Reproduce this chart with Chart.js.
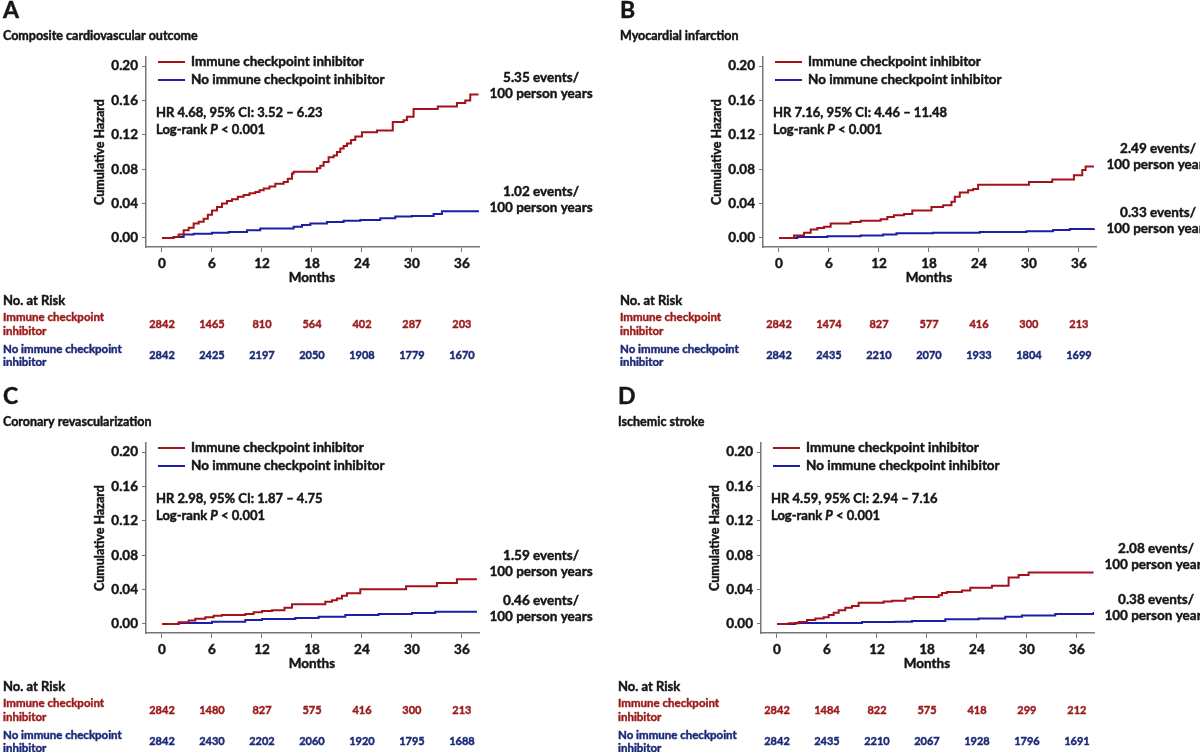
<!DOCTYPE html>
<html lang="en">
<head>
<meta charset="UTF-8">
<title>Cumulative hazard, immune checkpoint inhibitors</title>
<script src="https://cdn.jsdelivr.net/npm/chart.js@4.4.1/dist/chart.umd.min.js"></script>
<style>
  html, body { margin: 0; padding: 0; background: #fff; overflow: hidden; }
  #wrap { position: relative; width: 1200px; height: 752px; }
  #wrap canvas { position: absolute; }
</style>
</head>
<body>
<div id="wrap">
  <canvas id="pA" width="600" height="366" style="left:0;top:0"></canvas>
  <canvas id="pB" width="583" height="366" style="left:617px;top:0"></canvas>
  <canvas id="pC" width="600" height="366" style="left:0;top:386px"></canvas>
  <canvas id="pD" width="585" height="366" style="left:615px;top:386px"></canvas>
</div>
<script>
// ---- data ----
const months = [0, 6, 12, 18, 24, 30, 36]
const hazardTicks = [0, 0.02, 0.04, 0.06, 0.08, 0.10, 0.12, 0.14, 0.16, 0.18, 0.20]
const groups = ['Immune checkpoint inhibitor', 'No immune checkpoint inhibitor']

// A: composite cardiovascular outcome
const compIciT = [0, 1.4, 2.0, 2.6, 3.2, 3.8, 4.4, 5.0, 5.5, 6.0, 6.6, 7.2, 7.8, 8.4, 9.1, 9.8, 10.5, 11.2, 11.7, 12.2, 12.9, 13.6, 14.6, 15.1, 15.6, 15.8, 18.6, 19.0, 19.4, 20.0, 20.6, 21.0, 21.4, 21.8, 22.2, 22.7, 23.2, 24.0, 25.8, 27.7, 29.0, 29.4, 30.2, 33.1, 35.4, 36.4, 37.0, 38.0]
const compIciH = [0, 0.001, 0.004, 0.009, 0.012, 0.0167, 0.019, 0.0225, 0.027, 0.032, 0.036, 0.040, 0.043, 0.045, 0.048, 0.050, 0.052, 0.0536, 0.0555, 0.0575, 0.060, 0.063, 0.065, 0.069, 0.075, 0.077, 0.081, 0.084, 0.0885, 0.094, 0.096, 0.100, 0.104, 0.107, 0.110, 0.114, 0.118, 0.123, 0.125, 0.135, 0.137, 0.141, 0.150, 0.153, 0.157, 0.160, 0.167, 0.167]
const compNoT = [0, 1.4, 2.6, 3.8, 6.0, 8.0, 10.2, 11.8, 15.8, 16.8, 17.8, 19.8, 21.8, 23.8, 26.2, 28.0, 30.0, 32.6, 33.6, 36.5, 38.0]
const compNoH = [0, 0.001, 0.004, 0.005, 0.006, 0.007, 0.009, 0.011, 0.013, 0.015, 0.0167, 0.0186, 0.020, 0.021, 0.023, 0.025, 0.0256, 0.028, 0.031, 0.031, 0.032]

// B: myocardial infarction
const miIciT = [0, 1.8, 3.0, 3.8, 4.6, 5.4, 6.2, 8.6, 9.8, 12.2, 13.0, 13.8, 15.0, 16.0, 18.3, 19.7, 20.7, 21.1, 21.7, 22.7, 23.3, 23.9, 30.0, 32.8, 35.4, 36.4, 36.8, 37.8]
const miIciH = [0, 0.003, 0.006, 0.010, 0.0117, 0.013, 0.0167, 0.0186, 0.020, 0.0217, 0.0245, 0.0264, 0.028, 0.032, 0.036, 0.038, 0.042, 0.048, 0.053, 0.0555, 0.057, 0.062, 0.065, 0.068, 0.073, 0.079, 0.083, 0.083]
const miNoT = [0, 2.2, 5.8, 9.8, 12.5, 14.1, 18.5, 24.1, 29.7, 32.9, 34.9, 37.8]
const miNoH = [0, 0.001, 0.002, 0.003, 0.004, 0.0055, 0.006, 0.007, 0.0078, 0.0093, 0.0105, 0.011]

// C: coronary revascularization
const revIciT = [0, 2.0, 3.2, 4.0, 5.2, 6.2, 7.2, 10.0, 11.0, 12.0, 13.2, 14.7, 15.6, 19.6, 20.4, 21.0, 21.6, 22.2, 23.8, 29.3, 33.0, 35.4, 37.8]
const revIciH = [0, 0.002, 0.004, 0.006, 0.0077, 0.0096, 0.0104, 0.0115, 0.0135, 0.015, 0.016, 0.019, 0.023, 0.0258, 0.0277, 0.0296, 0.0327, 0.0358, 0.0404, 0.0438, 0.0477, 0.052, 0.052]
const revNoT = [0, 2.0, 6.0, 10.0, 12.0, 16.0, 18.8, 22.0, 26.0, 30.0, 32.8, 37.8]
const revNoH = [0, 0.001, 0.0027, 0.0046, 0.0058, 0.007, 0.0085, 0.0104, 0.0115, 0.0127, 0.0142, 0.0142]

// D: ischemic stroke
const strokeIciT = [0, 1.4, 2.6, 3.6, 4.6, 5.6, 6.2, 6.8, 7.4, 8.2, 9.0, 9.8, 12.8, 13.8, 15.4, 16.4, 19.4, 19.8, 20.4, 22.2, 23.2, 25.8, 27.8, 29.0, 30.2, 38.0]
const strokeIciH = [0, 0.0008, 0.0023, 0.0046, 0.0065, 0.0077, 0.0104, 0.013, 0.016, 0.019, 0.021, 0.0246, 0.026, 0.027, 0.0296, 0.0315, 0.0335, 0.036, 0.0373, 0.039, 0.042, 0.0446, 0.054, 0.057, 0.060, 0.060]
const strokeNoT = [0, 2.2, 10.2, 14.2, 16.2, 20.2, 24.2, 27.4, 29.4, 33.4, 38.0]
const strokeNoH = [0, 0.001, 0.0023, 0.0027, 0.0035, 0.0054, 0.0065, 0.0085, 0.010, 0.0115, 0.0138]

// numbers at risk
const compRiskIci = [2842, 1465, 810, 564, 402, 287, 203]
const compRiskNo = [2842, 2425, 2197, 2050, 1908, 1779, 1670]
const miRiskIci = [2842, 1474, 827, 577, 416, 300, 213]
const miRiskNo = [2842, 2435, 2210, 2070, 1933, 1804, 1699]
const revRiskIci = [2842, 1480, 827, 575, 416, 300, 213]
const revRiskNo = [2842, 2430, 2202, 2060, 1920, 1795, 1688]
const strokeRiskIci = [2842, 1484, 822, 575, 418, 299, 212]
const strokeRiskNo = [2842, 2435, 2210, 2067, 1928, 1796, 1691]

// ---- styling ----
const RED = '#a3121a'
const BLUE = '#1d1da6'
const RISK_RED = '#9c1a1a'
const RISK_BLUE = '#1c2a78'
const INK = '#161616'
const FONT = 'Lato, "Open Sans", sans-serif'
const H = 366

const panels = [
  { id: 'pA', letter: 'A', title: 'Composite cardiovascular outcome', hr: 'HR 4.68, 95% CI: 3.52 \u2013 6.23',
    ici: [compIciT, compIciH], no: [compNoT, compNoH], risk: [compRiskIci, compRiskNo],
    rates: ['5.35', '1.02'], rateY: [78, 192] },
  { id: 'pB', letter: 'B', title: 'Myocardial infarction', hr: 'HR 7.16, 95% CI: 4.46 \u2013 11.48',
    ici: [miIciT, miIciH], no: [miNoT, miNoH], risk: [miRiskIci, miRiskNo],
    rates: ['2.49', '0.33'], rateY: [149, 213] },
  { id: 'pC', letter: 'C', title: 'Coronary revascularization', hr: 'HR 2.98, 95% CI: 1.87 \u2013 4.75',
    ici: [revIciT, revIciH], no: [revNoT, revNoH], risk: [revRiskIci, revRiskNo],
    rates: ['1.59', '0.46'], rateY: [170, 215] },
  { id: 'pD', letter: 'D', title: 'Ischemic stroke', hr: 'HR 4.59, 95% CI: 2.94 \u2013 7.16',
    ici: [strokeIciT, strokeIciH], no: [strokeNoT, strokeNoH], risk: [strokeRiskIci, strokeRiskNo],
    rates: ['2.08', '0.38'], rateY: [163, 214] },
]

const toXY = (t, h) => t.map((x, i) => ({ x, y: h[i] }))

// filled text with a thin stroke so it reads as heavy as the scanned original
function txt(ctx, s, x, y, font, color, align) {
  ctx.font = font
  ctx.fillStyle = color
  ctx.strokeStyle = color
  ctx.lineWidth = 0.45
  ctx.textAlign = align || 'left'
  ctx.textBaseline = 'middle'
  ctx.fillText(s, x, y)
  ctx.strokeText(s, x, y)
}

// everything around the plot: letters, legend, HR, rates, risk table
const panelText = {
  id: 'panelText',
  afterDraw(chart, _args, opts) {
    const p = opts.panel
    const ctx = chart.ctx
    const area = chart.chartArea
    const xs = chart.scales.x
    ctx.save()
    txt(ctx, p.letter, 3, 11, 'bold 23px ' + FONT, INK)
    txt(ctx, p.title, 3, 36, 'bold 12.5px ' + FONT, INK)

    // legend
    const lx = area.left + 12
    ;[[RED, groups[0], 62], [BLUE, groups[1], 80]].forEach(([c, s, y]) => {
      ctx.strokeStyle = c
      ctx.lineWidth = 2
      ctx.beginPath(); ctx.moveTo(lx, y); ctx.lineTo(lx + 27, y); ctx.stroke()
      txt(ctx, s, lx + 33, y, 'bold 13.5px ' + FONT, INK)
    })

    // hazard ratio
    const hx = area.left + 10
    txt(ctx, p.hr, hx, 113, 'bold 13px ' + FONT, INK)
    let x = hx
    txt(ctx, 'Log-rank ', x, 130, 'bold 13px ' + FONT, INK)
    x += ctx.measureText('Log-rank ').width
    txt(ctx, 'P', x, 130, 'italic bold 13px ' + FONT, INK)
    x += ctx.measureText('P').width
    txt(ctx, ' < 0.001', x, 130, 'bold 13px ' + FONT, INK)

    // event rates at the right end
    const rx = area.right + 62
    p.rates.forEach((r, i) => {
      txt(ctx, r + ' events/', rx, p.rateY[i], 'bold 13.5px ' + FONT, INK, 'center')
      txt(ctx, '100 person years', rx, p.rateY[i] + 16, 'bold 13.5px ' + FONT, INK, 'center')
    })

    // axis titles
    ctx.save()
    ctx.translate(100, 152)
    ctx.rotate(-Math.PI / 2)
    txt(ctx, 'Cumulative Hazard', 0, 0, 'bold 12.5px ' + FONT, INK, 'center')
    ctx.restore()
    const mid = (xs.getPixelForValue(months[0]) + xs.getPixelForValue(months[months.length - 1])) / 2
    txt(ctx, 'Months', mid, 278, 'bold 13.5px ' + FONT, INK, 'center')

    // numbers at risk
    txt(ctx, 'No. at Risk', 3, 301, 'bold 13px ' + FONT, INK)
    txt(ctx, 'Immune checkpoint', 3, 317, 'bold 11.5px ' + FONT, RISK_RED)
    txt(ctx, 'inhibitor', 3, 331, 'bold 11.5px ' + FONT, RISK_RED)
    txt(ctx, 'No immune checkpoint', 3, 349, 'bold 11.5px ' + FONT, RISK_BLUE)
    txt(ctx, 'inhibitor', 3, 362, 'bold 11.5px ' + FONT, RISK_BLUE)
    months.forEach((m, i) => {
      const px = xs.getPixelForValue(m)
      txt(ctx, String(p.risk[0][i]), px, 324, 'bold 11px ' + FONT, RISK_RED, 'center')
      txt(ctx, String(p.risk[1][i]), px, 355, 'bold 11px ' + FONT, RISK_BLUE, 'center')
    })
    ctx.restore()
  }
}

const tickFont = { family: FONT, size: 13.5, weight: 'bold' }

panels.forEach(p => {
  const canvas = document.getElementById(p.id)
  const W = canvas.width
  new Chart(canvas, {
    type: 'line',
    data: {
      datasets: [
        { label: groups[0], data: toXY(p.ici[0], p.ici[1]), borderColor: RED, borderWidth: 2, stepped: true, pointRadius: 0, fill: false },
        { label: groups[1], data: toXY(p.no[0], p.no[1]), borderColor: BLUE, borderWidth: 2, stepped: true, pointRadius: 0, fill: false },
      ]
    },
    options: {
      responsive: false,
      animation: false,
      events: [],
      layout: { padding: { left: 0, top: 57, right: W - 479, bottom: 0 } },
      plugins: {
        legend: { display: false },
        tooltip: { enabled: false },
        panelText: { panel: p },
      },
      scales: {
        x: {
          type: 'linear',
          min: -1.92,
          max: 38.05,
          afterBuildTicks: s => { s.ticks = months.map(v => ({ value: v })) },
          afterFit: s => { s.height = H - 247 },
          grid: { drawOnChartArea: false, tickLength: 5, color: '#777' },
          border: { color: '#777', width: 1.5 },
          ticks: { color: INK, font: tickFont, padding: 4, maxRotation: 0, textStrokeColor: INK, textStrokeWidth: 0.45 },
        },
        y: {
          type: 'linear',
          min: -0.0105,
          max: 0.2105,
          afterBuildTicks: s => { s.ticks = hazardTicks.map(v => ({ value: v })) },
          afterFit: s => { s.width = 146 },
          grid: { drawOnChartArea: false, tickLength: 4, color: '#777' },
          border: { color: '#777', width: 1.5 },
          ticks: {
            color: INK,
            font: tickFont,
            padding: 4,
            textStrokeColor: INK,
            textStrokeWidth: 0.45,
            callback: (v, i) => (i % 2 === 0 ? v.toFixed(2) : ''),
          },
        },
      },
    },
    plugins: [panelText],
  })
})
</script>
</body>
</html>
